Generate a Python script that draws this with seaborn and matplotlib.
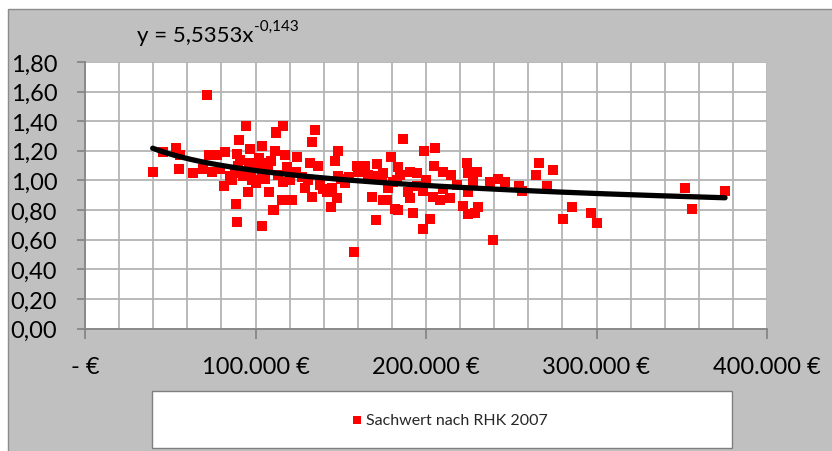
import numpy as np
import pandas as pd
import matplotlib
matplotlib.use("Agg")
import matplotlib.pyplot as plt
from matplotlib.patches import Rectangle
from matplotlib.ticker import MultipleLocator, FixedLocator
import seaborn as sns

# ---- data ----
kaufpreis_k = [
    39.7, 45.9, 53.4, 55.3, 55.7, 63.2, 71.4, 72.6, 69.4, 74.3, 77.6, 82.1, 79.2, 81.5,
    88.6, 89.0, 94.4, 90.3, 89.0, 89.9, 95.8, 85.0, 96.8, 92.8, 103.6, 112.0, 107.9, 110.4,
    116.3, 111.8, 134.9, 133.3, 103.6, 111.4, 117.3, 124.2, 148.2, 146.6, 132.0, 136.8,
    103.6, 107.5, 118.3, 127.1, 105.6, 116.3, 115.4, 121.6, 111.0, 133.0, 139.8, 147.6,
    144.3, 148.6, 152.5, 159.4, 164.2, 171.1, 170.1, 168.2, 170.5, 157.9, 175.0, 186.7,
    199.0, 205.3, 179.3, 183.8, 190.6, 194.5, 204.7, 210.1, 214.5, 224.2, 229.7, 224.8,
    242.4, 174.0, 180.8, 189.6, 190.6, 176.9, 181.8, 183.8, 192.6, 202.3, 198.4, 198.4,
    204.3, 208.2, 214.1, 224.8, 221.5, 224.8, 230.7, 228.7, 239.5, 237.5, 227.7, 246.3,
    254.7, 256.1, 266.5, 274.3, 264.5, 271.2, 285.4, 280.2, 296.8, 300.5, 351.9, 356.2,
    375.4,
    97.5, 100.6, 102.0, 104.0, 98.0, 106.0, 109.0, 113.0, 120.0, 124.0, 100.0, 91.0,
    88.0, 86.0, 96.0, 129.0, 131.0, 138.0, 142.0, 145.0, 150.0, 155.0, 160.0, 166.0,
    175.0, 185.0, 195.0, 200.0, 210.0, 218.0, 183.0, 178.0,
]
faktor = [
    1.06, 1.19, 1.22, 1.08, 1.17, 1.05, 1.58, 1.17, 1.08, 1.06, 1.17, 1.19, 1.08, 0.96,
    0.84, 0.72, 1.37, 1.27, 1.18, 1.10, 0.92, 1.03, 1.21, 1.03, 0.69, 1.33, 0.92, 0.80,
    1.37, 1.32, 1.34, 1.26, 1.23, 1.20, 1.17, 1.16, 1.20, 1.13, 1.12, 1.10,
    1.12, 1.08, 1.09, 1.02, 1.01, 0.99, 0.87, 0.87, 0.80, 0.89, 0.94, 0.88,
    0.82, 1.03, 0.98, 1.10, 1.10, 1.11, 1.03, 0.89, 0.73, 0.52, 0.87, 1.28,
    1.20, 1.22, 1.16, 1.09, 1.06, 1.05, 1.10, 1.06, 1.04, 1.12, 1.06, 1.05,
    1.01, 1.01, 0.99, 0.92, 0.88, 0.87, 0.81, 0.80, 0.78, 0.74, 0.67, 0.93,
    0.89, 0.87, 0.88, 0.92, 0.83, 0.77, 0.82, 0.78, 0.60, 0.99, 0.99, 0.99,
    0.96, 0.93, 1.12, 1.07, 1.04, 0.96, 0.82, 0.74, 0.78, 0.71, 0.95, 0.81,
    0.93,
    1.05, 1.10, 1.15, 1.02, 1.00, 1.07, 1.13, 1.04, 1.00, 1.06, 0.98, 1.14,
    1.05, 1.00, 1.12, 0.95, 1.00, 0.97, 0.92, 0.95, 1.01, 1.02, 1.06, 1.04,
    1.05, 1.04, 0.96, 1.00, 0.94, 0.97, 1.00, 0.95,
]
series_label = "Sachwert nach RHK 2007"
trend_a = 5.5353
trend_b = -0.143
trend_text = "y = 5,5353x"
trend_exp_text = "-0,143"

y_ticks = [0.0, 0.2, 0.4, 0.6, 0.8, 1.0, 1.2, 1.4, 1.6, 1.8]
y_tick_labels = ["0,00", "0,20", "0,40", "0,60", "0,80", "1,00", "1,20", "1,40", "1,60", "1,80"]
x_ticks = [0, 100000, 200000, 300000, 400000]
x_tick_labels = ["- \u20ac", "100.000 \u20ac", "200.000 \u20ac", "300.000 \u20ac", "400.000 \u20ac"]

df = pd.DataFrame({"preis": np.array(kaufpreis_k) * 1000.0, "faktor": faktor})

# ---- styling ----
sns.set_theme(style="white")
plt.rcParams["font.family"] = ["Lato", "DejaVu Sans"]

W, H = 832, 452
fig = plt.figure(figsize=(W / 100, H / 100), dpi=100, facecolor="white")

# grey chart area with thin border (top-left margin white)
fig.patches.append(Rectangle((8 / W, -0.01), 1 - 8 / W + 0.01, 1 - 10 / H + 0.01,
                             transform=fig.transFigure, facecolor="#C0C0C0",
                             edgecolor="#8C8C8C", linewidth=1.0, zorder=-10))

ax = fig.add_axes([85 / W, 1 - 329.5 / H, (767 - 85) / W, (329.5 - 63) / H])
ax.set_zorder(2)
ax.set_facecolor("white")

sns.scatterplot(data=df, x="preis", y="faktor", marker="s", color="#FF0000", s=55,
                linewidth=0, ax=ax, label=series_label, zorder=3)

xs = np.linspace(df["preis"].min(), df["preis"].max(), 300)
trend = pd.DataFrame({"x": xs, "y": trend_a * xs ** trend_b})
sns.lineplot(data=trend, x="x", y="y", color="black", linewidth=3.8, ax=ax,
             legend=False, zorder=4, sort=False)

ax.set_xlim(0, 400000)
ax.set_ylim(0, 1.8)
ax.xaxis.set_major_locator(FixedLocator(x_ticks))
ax.xaxis.set_minor_locator(MultipleLocator(20000))
ax.set_xticklabels(x_tick_labels)
ax.set_yticks(y_ticks)
ax.set_yticklabels(y_tick_labels)
ax.set_xlabel("")
ax.set_ylabel("")

ax.grid(True, which="minor", axis="x", color="#B4B4B4", linewidth=1.3, zorder=0)
ax.grid(True, which="major", axis="x", color="#B4B4B4", linewidth=1.3, zorder=0)
ax.grid(True, which="major", axis="y", color="#B4B4B4", linewidth=1.3, zorder=0)
ax.set_axisbelow(True)

for s in ["top", "right"]:
    ax.spines[s].set_visible(False)
for s in ["left", "bottom"]:
    ax.spines[s].set_color("#868686")
    ax.spines[s].set_linewidth(1.3)

ax.tick_params(axis="y", which="major", direction="out", length=6, width=1.3, color="#868686",
               labelsize=17, pad=14, labelcolor="black", left=True)
ax.tick_params(axis="x", which="major", direction="out", length=7, width=1.3, color="#868686",
               labelsize=17, pad=13, labelcolor="black", bottom=True)
ax.tick_params(axis="x", which="minor", length=0)

# legend box
fig.patches.append(Rectangle((152 / W, 1 - 449 / H), (732 - 152) / W, (449 - 392) / H,
                             transform=fig.transFigure, facecolor="white",
                             edgecolor="#7F7F7F", linewidth=1.0, zorder=-5))
handles, labels = ax.get_legend_handles_labels()
ax.get_legend().remove()
leg = fig.legend(handles, labels, loc="center", bbox_to_anchor=(450 / W, 1 - 421 / H),
                 frameon=False, fontsize=11.5, handlelength=0.6, handletextpad=0.25,
                 markerscale=0.8)

# trendline equation
fig.canvas.draw()
t1 = fig.text(137 / W, 1 - 42 / H, trend_text, fontsize=16, color="black", ha="left",
              va="baseline")
fig.canvas.draw()
bb = t1.get_window_extent()
fig.text((bb.x1 + 0.5) / W, 1 - 31 / H, trend_exp_text, fontsize=11, color="black",
         ha="left", va="baseline")

fig.savefig("out.png", dpi=100, facecolor=fig.get_facecolor())
